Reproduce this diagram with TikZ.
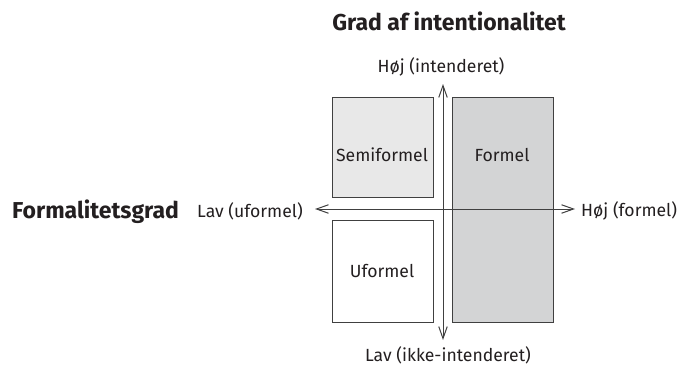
\documentclass[tikz,border=0pt]{standalone}
\usepackage{fontspec}
\setmainfont{Fira Sans}
\usetikzlibrary{arrows.meta}
\definecolor{ink}{HTML}{231F20}
\definecolor{ln}{HTML}{404040}
\definecolor{lightbox}{HTML}{E8E8E8}
\definecolor{darkbox}{HTML}{D3D4D5}
\begin{document}
\begin{tikzpicture}[x=1pt,y=-1pt,
  box/.style={draw=ln,line width=0.9pt,inner sep=0pt},
  axis/.style={draw=ln,line width=1pt,{Straight Barb[length=12pt,width=8.5pt,line width=1pt]}-{Straight Barb[length=12pt,width=8.5pt,line width=1pt]}},
  lbl/.style={text=ink,font=\fontsize{17.6}{20}\selectfont,inner sep=0pt},
  head/.style={text=ink,font=\fontsize{23}{26}\selectfont\bfseries,inner sep=0pt}]
\useasboundingbox (0,0) rectangle (680,370);
\fill[white] (0,0) rectangle (680,370);
\draw[box,fill=lightbox] (332,97) rectangle (433,197);
\draw[box,fill=white] (332,220) rectangle (433,322);
\draw[box,fill=darkbox] (452,97) rectangle (553,322);
\coordinate (vt) at (443,84);
\coordinate (vb) at (443,340);
\coordinate (hl) at (315,209);
\coordinate (hr) at (575,209);
\draw[axis] (vb) -- (vt);
\draw[axis] (hl) -- (hr);
\node[head] (t1) at (449,21) {Grad af intentionalitet};
\node[head,anchor=west] (t2) at (12,212) {Formalitetsgrad};
\node[lbl] (hi) at (441,67) {Høj (intenderet)};
\node[lbl] (lo) at (448,355) {Lav (ikke-intenderet)};
\node[lbl,anchor=west] (lu) at (197,211) {Lav (uformel)};
\node[lbl,anchor=west] (hf) at (581,211) {Høj (formel)};
\node[lbl] (s) at (382,155) {Semiformel};
\node[lbl] (f) at (502,155) {Formel};
\node[lbl] (u) at (382,271) {Uformel};
\end{tikzpicture}
\end{document}
